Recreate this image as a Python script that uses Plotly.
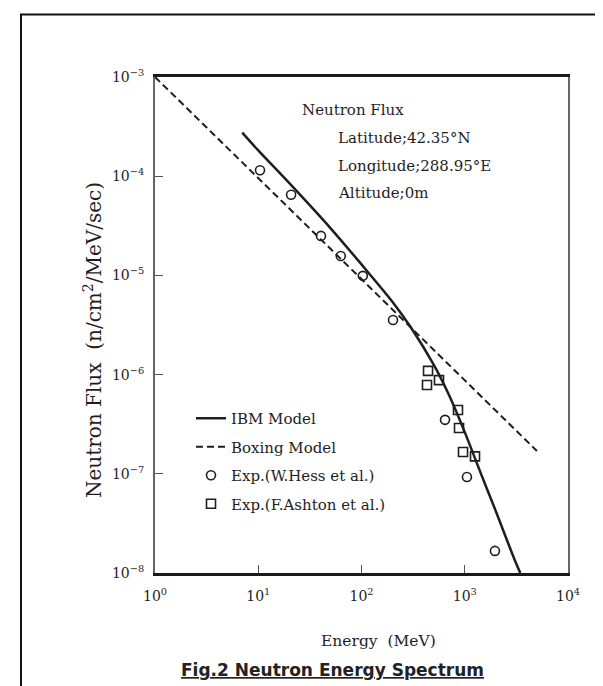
import plotly.graph_objects as go

# ---------------- data ----------------
ibm_energy = [7, 10, 20, 50, 100, 200, 300, 500, 700, 1000, 1500, 2000, 3000, 3450]
ibm_flux = [2.75e-4, 1.82e-4, 8.5e-5, 3.0e-5, 1.29e-5, 5.4e-6, 3.0e-6, 1.26e-6,
            6.3e-7, 2.63e-7, 8.9e-8, 4.2e-8, 1.41e-8, 1.0e-8]

boxing_energy = [1, 5000]
boxing_flux = [1e-3, 1.7e-7]

hess_energy = [10.4, 20.8, 40.5, 63, 103, 202, 644, 1050, 1960]
hess_flux = [1.15e-4, 6.5e-5, 2.5e-5, 1.57e-5, 9.9e-6, 3.55e-6, 3.5e-7, 9.3e-8, 1.67e-8]

ashton_energy = [441, 431, 563, 860, 880, 962, 1257]
ashton_flux = [1.09e-6, 7.85e-7, 8.8e-7, 4.4e-7, 2.9e-7, 1.66e-7, 1.5e-7]

x_tickvals = [1, 10, 100, 1000, 10000]
x_ticktext = ["10<sup>0</sup>", "10<sup>1</sup>", "10<sup>2</sup>", "10<sup>3</sup>", "10<sup>4</sup>"]
y_tickvals = [1e-3, 1e-4, 1e-5, 1e-6, 1e-7, 1e-8]
y_ticktext = ["10<sup>\u22123</sup>", "10<sup>\u22124</sup>", "10<sup>\u22125</sup>",
              "10<sup>\u22126</sup>", "10<sup>\u22127</sup>", "10<sup>\u22128</sup>"]

info_lines = ["Latitude;42.35\u00b0N", "Longitude;288.95\u00b0E", "Altitude;0m"]

# ---------------- figure ----------------
SERIF = "DejaVu Serif"
INK = "#1e1e1e"

fig = go.Figure()
fig.add_trace(go.Scatter(x=ibm_energy, y=ibm_flux, mode="lines", name="IBM Model",
                         legendgroup="a", line=dict(color=INK, width=2.5, shape="spline", smoothing=0.8)))
fig.add_trace(go.Scatter(x=boxing_energy, y=boxing_flux, mode="lines", name="Boxing Model",
                         legendgroup="b", line=dict(color=INK, width=2, dash="7px,4px")))
fig.add_trace(go.Scatter(x=hess_energy, y=hess_flux, mode="markers", name="Exp.(W.Hess et al.)",
                         legendgroup="c",
                         marker=dict(symbol="circle-open", size=9, color=INK, line=dict(width=1.6, color=INK))))
fig.add_trace(go.Scatter(x=ashton_energy, y=ashton_flux, mode="markers", name="Exp.(F.Ashton et al.)",
                         legendgroup="d",
                         marker=dict(symbol="square-open", size=9, color=INK, line=dict(width=1.6, color=INK))))

L, R, T, B = 147, 43, 69, 121
W, H = 603, 686
pw, ph = W - L - R, H - T - B

def px(xp):
    return (xp - L) / pw

def py(yp):
    return (H - B - yp) / ph

annotations = [
    dict(text="Neutron Flux", x=px(292), y=py(102), xanchor="left", yanchor="middle"),
]
for i, t in enumerate(info_lines):
    annotations.append(dict(text=t, x=px(328), y=py(130 + i * 27.5), xanchor="left", yanchor="middle"))
for a in annotations:
    a.update(xref="paper", yref="paper", showarrow=False, font=dict(family=SERIF, size=15, color=INK))

annotations.append(dict(text="Energy\u00a0\u00a0(MeV)", x=px(370), y=py(633), xref="paper", yref="paper",
                        xanchor="center", yanchor="middle", showarrow=False,
                        font=dict(family=SERIF, size=15.5, color=INK)))
annotations.append(dict(text="Neutron Flux\u00a0\u00a0(n/cm<sup>2</sup>/MeV/sec)", x=px(85), y=py(332),
                        xref="paper", yref="paper", xanchor="center", yanchor="middle", textangle=-90,
                        showarrow=False, font=dict(family=SERIF, size=20, color=INK)))
annotations.append(dict(text="<u>Fig.2 Neutron Energy Spectrum</u>", x=px(324), y=py(662),
                        xref="paper", yref="paper", xanchor="center", yanchor="middle", showarrow=False,
                        font=dict(family="DejaVu Sans", size=17, color="#222", weight="bold")))

shapes = [
    dict(type="line", xref="paper", yref="paper", x0=px(13), x1=px(13), y0=py(700), y1=py(6),
         line=dict(color="#111", width=2)),
    dict(type="line", xref="paper", yref="paper", x0=px(12), x1=px(620), y0=py(6.5), y1=py(6.5),
         line=dict(color="#111", width=2)),
]

fig.update_layout(
    width=W, height=H,
    margin=dict(l=L, r=R, t=T, b=B, pad=0),
    paper_bgcolor="white", plot_bgcolor="white",
    showlegend=True,
    legend=dict(x=px(183), y=py(394), xanchor="left", yanchor="top",
                font=dict(family=SERIF, size=15, color=INK), bgcolor="rgba(0,0,0,0)",
                tracegroupgap=6, itemwidth=30),
    annotations=annotations,
    shapes=shapes,
    font=dict(family=SERIF, color=INK),
)

fig.update_xaxes(type="log", range=[0, 4], tickvals=x_tickvals, ticktext=x_ticktext,
                 showgrid=False, zeroline=False, showline=True, linecolor="#1a1a1a", linewidth=2.5,
                 mirror=True, ticks="inside", ticklen=8, tickwidth=1.2, tickcolor="#555",
                 tickfont=dict(family=SERIF, size=14, color=INK), ticklabelstandoff=8)
fig.update_yaxes(type="log", range=[-8, -3], tickvals=y_tickvals, ticktext=y_ticktext,
                 showgrid=False, zeroline=False, showline=True, linecolor="#666", linewidth=2,
                 mirror=True, ticks="inside", ticklen=8, tickwidth=1.2, tickcolor="#555",
                 tickfont=dict(family=SERIF, size=14, color=INK), ticklabelstandoff=6)

fig.write_html("out.html")
